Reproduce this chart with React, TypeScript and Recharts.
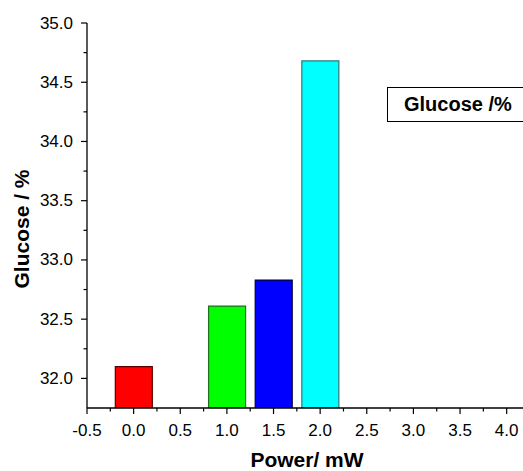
import { BarChart, Bar, Cell, XAxis, YAxis, Legend } from "recharts";

const powers = [0, 1.0, 1.5, 2.0];
const glucose = [32.1, 32.61, 32.83, 34.68];
const barColors = ["#ff0000", "#00ff00", "#0000ff", "#00ffff"];
const barEdges = ["#5a0000", "#1f6f1f", "#000033", "#2a7a7a"];

const xTicks = [-0.5, -0.25, 0, 0.25, 0.5, 0.75, 1.0, 1.25, 1.5, 1.75, 2.0, 2.25, 2.5, 2.75, 3.0, 3.25, 3.5, 3.75, 4.0];
const xMajor = [-0.5, 0, 0.5, 1.0, 1.5, 2.0, 2.5, 3.0, 3.5, 4.0];
const yTicks = [32.0, 32.25, 32.5, 32.75, 33.0, 33.25, 33.5, 33.75, 34.0, 34.25, 34.5, 34.75, 35.0];
const yMajor = [32.0, 32.5, 33.0, 33.5, 34.0, 34.5, 35.0];

const data = powers.map((p, i) => ({ power: p, glucose: glucose[i] }));

const FONT = "Arial, 'Liberation Sans', sans-serif";

const XTick = ({ x, y, payload }: any) => {
  const major = xMajor.includes(payload.value);
  return (
    <g>
      <line x1={x} x2={x} y1={y} y2={y + (major ? 6 : 3.5)} stroke="#000" strokeWidth={1.2} />
      {major && (
        <text x={x} y={y + 22} textAnchor="middle" dominantBaseline="central" fontSize={17} fontFamily={FONT} fill="#000">
          {payload.value.toFixed(1)}
        </text>
      )}
    </g>
  );
};

const YTick = ({ x, y, payload }: any) => {
  const major = yMajor.includes(payload.value);
  return (
    <g>
      <line x1={x} x2={x - (major ? 6 : 3.5)} y1={y} y2={y} stroke="#000" strokeWidth={1.2} />
      {major && (
        <text x={x - 14} y={y} textAnchor="end" dominantBaseline="central" fontSize={17} fontFamily={FONT} fill="#000">
          {payload.value.toFixed(1)}
        </text>
      )}
    </g>
  );
};

const LegendBox = () => (
  <div
    style={{
      border: "1px solid #000",
      background: "#fff",
      width: 160,
      height: 35,
      boxSizing: "border-box",
      paddingLeft: 16,
      lineHeight: "33px",
      fontFamily: FONT,
      fontWeight: "bold",
      fontSize: 20,
      color: "#000",
      whiteSpace: "nowrap",
    }}
  >
    Glucose /%
  </div>
);

export default function App() {
  return (
    <div style={{ position: "absolute", left: 0, top: 0, width: 523, height: 471, overflow: "hidden", background: "#fff" }}>
      <BarChart width={523} height={471} data={data} margin={{ top: 23, right: 0, bottom: 0, left: 0 }}>
        <XAxis
          dataKey="power"
          type="number"
          domain={[-0.5, 4.175]}
          allowDataOverflow
          ticks={xTicks}
          interval={0}
          tick={<XTick />}
          tickSize={0}
          tickMargin={0}
          height={63}
          axisLine={{ stroke: "#000", strokeWidth: 1.3 }}
          label={{
            content: () => (
              <text x={307} y={467} textAnchor="middle" fontSize={21} fontWeight="bold" fontFamily={FONT} fill="#000">
                Power/ mW
              </text>
            ),
          }}
        />
        <YAxis
          type="number"
          domain={[31.75, 35]}
          allowDataOverflow
          ticks={yTicks}
          interval={0}
          tick={<YTick />}
          tickSize={0}
          tickMargin={0}
          width={87}
          axisLine={{ stroke: "#000", strokeWidth: 1.3 }}
          label={{
            content: () => (
              <text
                x={0}
                y={0}
                transform="translate(29,229) rotate(-90)"
                textAnchor="middle"
                fontSize={21}
                fontWeight="bold"
                fontFamily={FONT}
                fill="#000"
              >
                Glucose / %
              </text>
            ),
          }}
        />
        <Legend
          content={<LegendBox />}
          layout="horizontal"
          verticalAlign="middle"
          align="center"
          wrapperStyle={{ position: "absolute", left: 387, top: 87, width: 160 }}
        />
        <Bar dataKey="glucose" barSize={37} isAnimationActive={false}>
          {data.map((d, i) => (
            <Cell key={d.power} fill={barColors[i]} stroke={barEdges[i]} strokeWidth={1.2} />
          ))}
        </Bar>
      </BarChart>
    </div>
  );
}
